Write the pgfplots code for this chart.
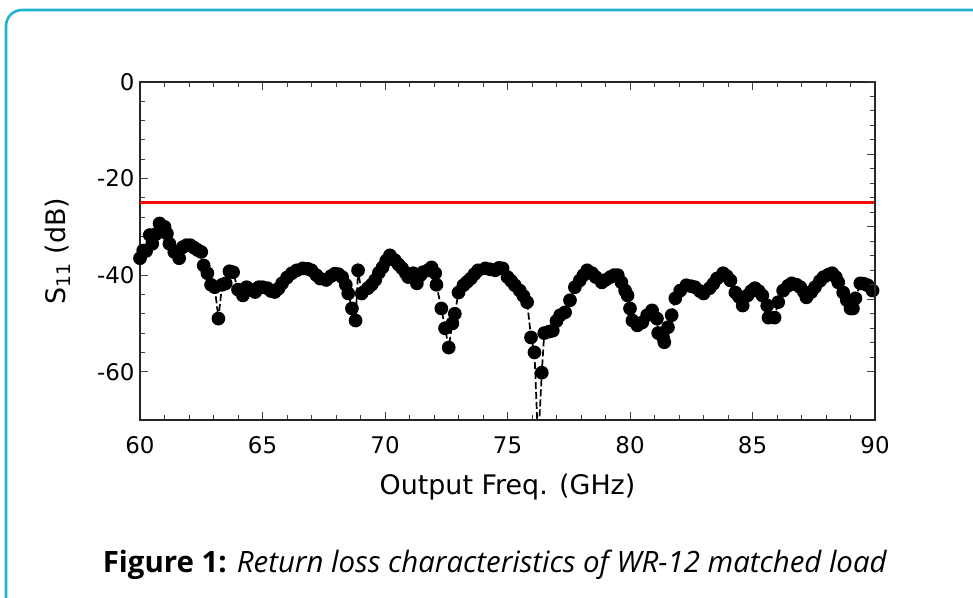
\documentclass[border=0pt]{standalone}
\usepackage{fontspec}
\setmainfont{DejaVu Sans}
\newfontfamily\capfont{Open Sans}
\usepackage{pgfplots}
\pgfplotsset{compat=1.18}
\definecolor{framecyan}{RGB}{32,180,210}
\definecolor{limred}{RGB}{240,10,10}

\pgfplotstableread{
f s
60.0 -36.5
60.13 -34.9
60.25 -35.0
60.4 -31.7
60.5 -33.5
60.65 -31.5
60.8 -29.3
61.0 -30.0
61.1 -31.4
61.2 -33.5
61.4 -35.2
61.6 -36.5
61.75 -34.2
61.9 -33.8
62.05 -33.8
62.2 -34.3
62.35 -34.8
62.5 -35.2
62.6 -38.0
62.75 -39.6
62.9 -42.0
63.05 -42.5
63.2 -49.0
63.35 -42.0
63.5 -41.7
63.65 -39.2
63.8 -39.4
64.0 -43.0
64.2 -44.2
64.35 -42.5
64.5 -43.0
64.7 -43.5
64.85 -42.5
65.0 -42.5
65.2 -42.7
65.35 -43.3
65.5 -43.5
65.65 -42.8
65.8 -41.7
66.0 -40.5
66.2 -39.6
66.4 -39.0
66.65 -38.6
66.85 -38.7
67.0 -39.0
67.2 -40.0
67.35 -40.7
67.6 -41.0
67.8 -40.2
67.95 -39.7
68.1 -39.8
68.25 -40.4
68.4 -42.0
68.5 -43.8
68.65 -46.9
68.8 -49.4
68.9 -39.0
69.05 -43.8
69.3 -42.7
69.45 -42.0
69.6 -41.0
69.75 -39.5
69.9 -38.4
70.05 -37.0
70.2 -35.9
70.4 -36.9
70.55 -37.8
70.7 -38.6
70.85 -39.6
70.95 -40.4
71.15 -39.6
71.3 -41.7
71.45 -40.0
71.55 -39.4
71.75 -39.0
71.9 -38.4
72.05 -39.6
72.1 -42.0
72.3 -46.9
72.45 -51.0
72.6 -55.0
72.75 -50.0
72.85 -48.0
73.0 -43.6
73.2 -42.1
73.35 -41.4
73.5 -40.7
73.65 -39.8
73.8 -39.0
74.1 -38.6
74.3 -38.8
74.5 -39.0
74.65 -38.5
74.8 -38.6
75.0 -40.4
75.15 -41.2
75.3 -42.1
75.5 -43.2
75.65 -44.3
75.8 -45.6
75.96 -52.9
76.1 -56.0
76.25 -75.0
76.4 -60.2
76.5 -52.0
76.7 -51.7
76.85 -51.5
77.0 -49.5
77.15 -48.3
77.35 -47.7
77.55 -45.2
77.75 -42.5
77.95 -41.1
78.1 -40.0
78.25 -39.0
78.45 -39.6
78.6 -40.4
78.85 -41.5
79.0 -41.0
79.2 -40.4
79.35 -40.0
79.5 -40.0
79.65 -41.5
79.8 -43.2
79.9 -44.2
80.0 -46.9
80.1 -49.4
80.3 -50.4
80.5 -49.8
80.7 -48.3
80.9 -47.3
81.1 -49.0
81.15 -52.0
81.35 -52.9
81.4 -53.9
81.55 -50.8
81.7 -48.3
81.85 -44.8
82.05 -43.2
82.3 -42.1
82.5 -42.3
82.65 -42.5
82.85 -43.3
83.0 -43.8
83.25 -42.7
83.4 -41.8
83.55 -40.7
83.8 -39.6
83.95 -40.2
84.1 -41.1
84.3 -43.6
84.45 -44.5
84.6 -46.3
84.8 -44.2
84.95 -43.3
85.1 -42.7
85.25 -43.3
85.4 -44.2
85.6 -46.3
85.65 -48.8
85.9 -48.8
86.05 -45.6
86.25 -43.2
86.45 -42.2
86.6 -41.7
86.8 -42.0
86.95 -42.5
87.1 -43.5
87.2 -44.6
87.4 -43.5
87.55 -42.5
87.75 -41.2
87.9 -40.4
88.1 -39.9
88.25 -39.6
88.4 -40.4
88.5 -41.5
88.7 -43.6
88.85 -45.2
89.0 -46.9
89.1 -46.9
89.2 -44.8
89.4 -41.7
89.55 -41.8
89.7 -42.1
89.9 -43.2
}\sone

\begin{document}
\begin{tikzpicture}[x=1bp,y=1bp]
% canvas in image pixels, y upwards
\path[use as bounding box] (0,0) rectangle (973,598);
\begin{scope}
\clip (0,0) rectangle (973,598);
\draw[framecyan, line width=2.6bp, rounded corners=16bp] (6,588) rectangle (990,-20);
\end{scope}

\begin{axis}[
    at={(140bp,178bp)}, anchor=south west,
    scale only axis, width=735bp, height=338bp,
    xmin=60, xmax=90, ymin=-70, ymax=0,
    xtick={60,65,...,90}, ytick={-60,-40,-20,0},
    minor x tick num=4, minor y tick num=4,
    ytick pos=left,
    tick align=inside,
    major tick length=8bp, minor tick length=5bp,
    axis line style={line width=1.3bp, black!85},
    every tick/.style={line width=1bp, black!75},
    ticklabel style={font=\fontsize{23}{26}\selectfont},
    xticklabel style={yshift=-13bp},
    yticklabel style={xshift=-2bp},
    /pgf/number format/assume math mode=true,
    xlabel={Output Freq. (GHz)},
    ylabel={S\textsubscript{11} (dB)},
    label style={font=\fontsize{27}{30}\selectfont},
    xlabel style={at={(axis description cs:0.5,-0.198)}, anchor=center},
    ylabel style={at={(axis description cs:-0.112,0.5)}, anchor=center},
]
\addplot[limred, line width=2.5bp] coordinates {(60,-25) (90,-25)};
\addplot[black, dashed, dash pattern=on 7bp off 3bp, line width=1.7bp,
    mark=*, mark size=6bp, mark options={solid, fill=black}] table[x=f, y=s] {\sone};
\end{axis}

% right-hand ticks (different spacing in the original)
\begin{axis}[
    at={(140bp,178bp)}, anchor=south west,
    scale only axis, width=735bp, height=338bp,
    xmin=60, xmax=90, ymin=-70, ymax=0,
    hide x axis, axis y line*=right,
    ytick={-60,-45,-30,-15,0}, yticklabels={},
    minor y tick num=4,
    tick align=inside,
    major tick length=8bp, minor tick length=5bp,
    axis line style={line width=1.3bp, black!85},
    every tick/.style={line width=1bp, black!75},
]
\end{axis}

\node[font=\capfont\fontsize{29.5}{33}\selectfont, anchor=center] at (495,33)
  {\textbf{Figure 1:} \textit{Return loss characteristics of WR-12 matched load}};
\end{tikzpicture}
\end{document}
